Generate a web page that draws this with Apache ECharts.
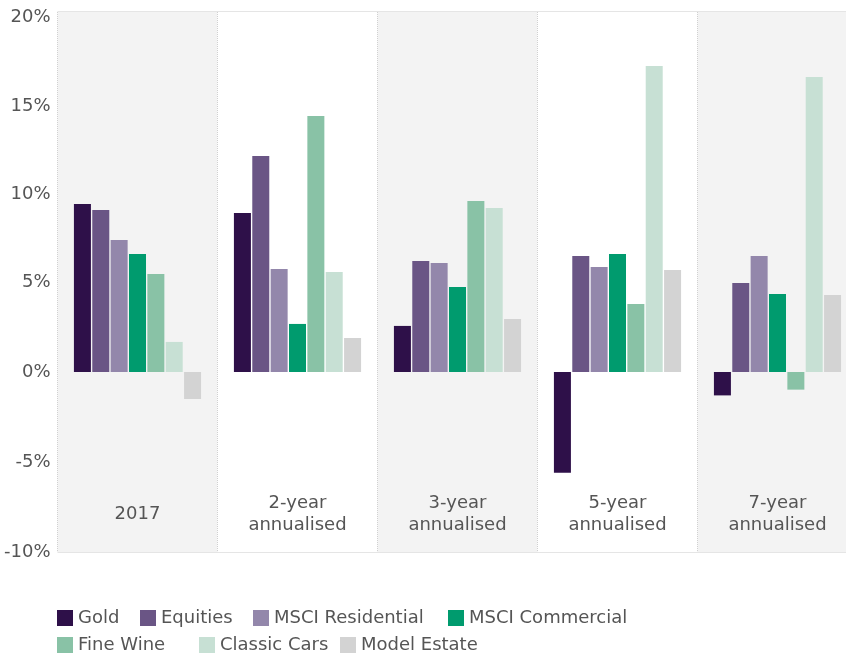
<!DOCTYPE html>
<html>
<head>
<meta charset="utf-8">
<script src="https://cdn.jsdelivr.net/npm/echarts@6/dist/echarts.min.js"></script>
<style>html,body{margin:0;padding:0;background:#fff}#c{width:846px;height:654px}</style>
</head>
<body>
<div id="c"></div>
<script>
const categories = ['2017', '2-year\nannualised', '3-year\nannualised', '5-year\nannualised', '7-year\nannualised'];
const yTicks = [-10, -5, 0, 5, 10, 15, 20];
const seriesNames = ['Gold', 'Equities', 'MSCI Residential', 'MSCI Commercial', 'Fine Wine', 'Classic Cars', 'Model Estate'];
const gold = [9.33, 8.83, 2.56, -5.6, -1.3];
const equities = [9.0, 12.0, 6.17, 6.44, 4.94];
const msciResidential = [7.33, 5.72, 6.06, 5.83, 6.44];
const msciCommercial = [6.56, 2.67, 4.72, 6.56, 4.33];
const fineWine = [5.44, 14.22, 9.5, 3.78, -0.98];
const classicCars = [1.67, 5.56, 9.11, 17.0, 16.39];
const modelEstate = [-1.5, 1.89, 2.94, 5.67, 4.28];
const colors = ['#2e1049', '#6a5585', '#9387ab', '#009b6e', '#89c2a6', '#c7e0d4', '#d3d3d3'];

const values = [gold, equities, msciResidential, msciCommercial, fineWine, classicCars, modelEstate];
const FONT = 'DejaVu Sans';
const FS = 18;
const TXT = '#555555';
const chart = echarts.init(document.getElementById('c'), null, {renderer: 'canvas'});
const legendText = {fontSize: FS, color: TXT, fontFamily: FONT};
// legend layout (one legend component per item)
const legendPos = [[57, 609], [140, 609], [253, 609], [448, 609], [57, 636], [199, 636], [340, 636]];
const legends = seriesNames.map((n, i) => ({
  data: [n], left: legendPos[i][0], top: legendPos[i][1], itemWidth: 16, itemHeight: 16,
  icon: 'rect', textStyle: legendText, selectedMode: false, padding: 0
}));
// small downward nudges of the upper tick labels (style only)
const labelStyle = (off) => ({fontSize: FS, color: TXT, fontFamily: FONT, padding: [off * 2, 0, 0, 0]});
chart.setOption({
  animation: false,
  color: colors,
  textStyle: {fontFamily: FONT},
  grid: {left: 57.5, top: 12, width: 800, height: 540, containLabel: false, outerBoundsMode: 'none'},
  legend: legends,
  xAxis: {
    type: 'category',
    data: categories,
    position: 'bottom',
    axisLine: {show: false},
    axisTick: {show: false},
    axisLabel: {inside: true, margin: 38, verticalAlign: 'middle', fontSize: FS, lineHeight: 22,
                color: TXT, fontFamily: FONT, interval: 0},
    splitLine: {show: true, interval: 0, lineStyle: {type: 'dotted', color: '#d0d0d0', width: 1}},
    splitArea: {show: true, interval: 0, areaStyle: {color: ['#f3f3f3', '#ffffff']}}
  },
  yAxis: {
    type: 'value',
    min: yTicks[0], max: yTicks[yTicks.length - 1], interval: 5,
    axisLine: {show: false},
    axisTick: {show: false},
    axisLabel: {
      formatter: (v) => {
        const k = v >= 20 ? 'o5' : v >= 15 ? 'o4' : v >= 10 ? 'o2' : 'o0';
        return '{' + k + '|' + v + '%}';
      },
      margin: 7,
      verticalAlign: 'middle',
      rich: {o5: labelStyle(5), o4: labelStyle(4), o2: labelStyle(2), o0: labelStyle(0)}
    },
    splitLine: {lineStyle: {color: '#dcdcdc', width: 1.5}}
  },
  series: seriesNames.map((n, i) => ({
    name: n,
    type: 'bar',
    data: values[i],
    barWidth: 17,
    barGap: '8%',
    itemStyle: {color: colors[i]}
  }))
});
</script>
</body>
</html>
